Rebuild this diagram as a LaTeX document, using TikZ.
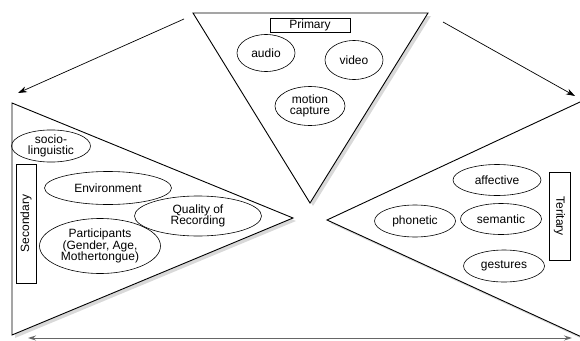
\documentclass[tikz,border=0pt]{standalone}
\usepackage{fontspec}
\setmainfont{Liberation Sans}
\usetikzlibrary{arrows.meta,shadows,shapes.geometric}
\tikzset{
  tri/.style={draw=black, line width=0.9pt, fill=white, line join=miter,
    drop shadow={opacity=0.3, shadow xshift=3pt, shadow yshift=-3pt}},
  ell/.style={draw=black, line width=0.6pt, ellipse, inner sep=0pt, align=center, font=\fontsize{12}{13.5}\selectfont},
  lbl/.style={draw=black, line width=0.6pt, rectangle, inner sep=0pt, font=\fontsize{12}{13.5}\selectfont},
  arr/.style={line width=0.7pt, -{Stealth[length=9pt,width=6pt]}},
}
\begin{document}
\begin{tikzpicture}[x=1pt,y=-1pt]
\useasboundingbox (0,0) rectangle (580,340);
\clip (0,0) rectangle (580,340);
% triangles
\draw[tri] (193,13) -- (428,13) -- (310,203) -- cycle;
\draw[tri] (12,103) -- (293,218) -- (12,335) -- cycle;
\draw[tri] (327,220) -- (610,88) -- (610,350) -- cycle;
% primary
\node[lbl, minimum width=80pt, minimum height=14pt] (primary) at (310,25) {Primary};
\node[ell, minimum width=58pt, minimum height=37pt] (audio) at (266,53) {audio};
\node[ell, minimum width=58pt, minimum height=39pt] (video) at (354,60) {video};
\node[ell, minimum width=70pt, minimum height=39pt] (motion) at (310,106) {motion\\[-2pt]capture};
% secondary
\node[ell, minimum width=79pt, minimum height=31pt] (socio) at (51,146) {socio-\\[-2pt]linguistic};
\node[lbl, minimum width=119pt, minimum height=20pt, rotate=90] (secondary) at (26,223.5) {Secondary};
\node[ell, minimum width=127pt, minimum height=33pt] (env) at (108,188) {Environment};
\node[ell, minimum width=127pt, minimum height=40pt] (quality) at (198,216) {Quality of\\[-2pt]Recording};
\node[ell, minimum width=121pt, minimum height=55pt] (part) at (100,246) {Participants\\[-2pt](Gender, Age,\\[-2pt]Mothertongue)};
% tertiary
\node[ell, minimum width=88pt, minimum height=31pt] (affective) at (497,180) {affective};
\node[ell, minimum width=81pt, minimum height=32pt] (phonetic) at (415,221) {phonetic};
\node[ell, minimum width=81pt, minimum height=31pt] (semantic) at (501,219) {semantic};
\node[ell, minimum width=81pt, minimum height=32pt] (gestures) at (504,266) {gestures};
\node[lbl, minimum width=88pt, minimum height=21pt, rotate=-90] (tertiary) at (559.5,216) {Teritary};
% arrows
\coordinate (a1s) at (184,19);
\coordinate (a1e) at (18,93);
\coordinate (a2s) at (443,22);
\coordinate (a2e) at (575,96);
\coordinate (b1) at (28,338);
\coordinate (b2) at (572,338);
\draw[arr] (a1s) -- (a1e);
\draw[arr] (a2s) -- (a2e);
\draw[line width=1pt, draw=black!60, {Stealth[length=8pt,width=5pt]}-{Stealth[length=8pt,width=5pt]}] (b1) -- (b2);
\end{tikzpicture}
\end{document}
